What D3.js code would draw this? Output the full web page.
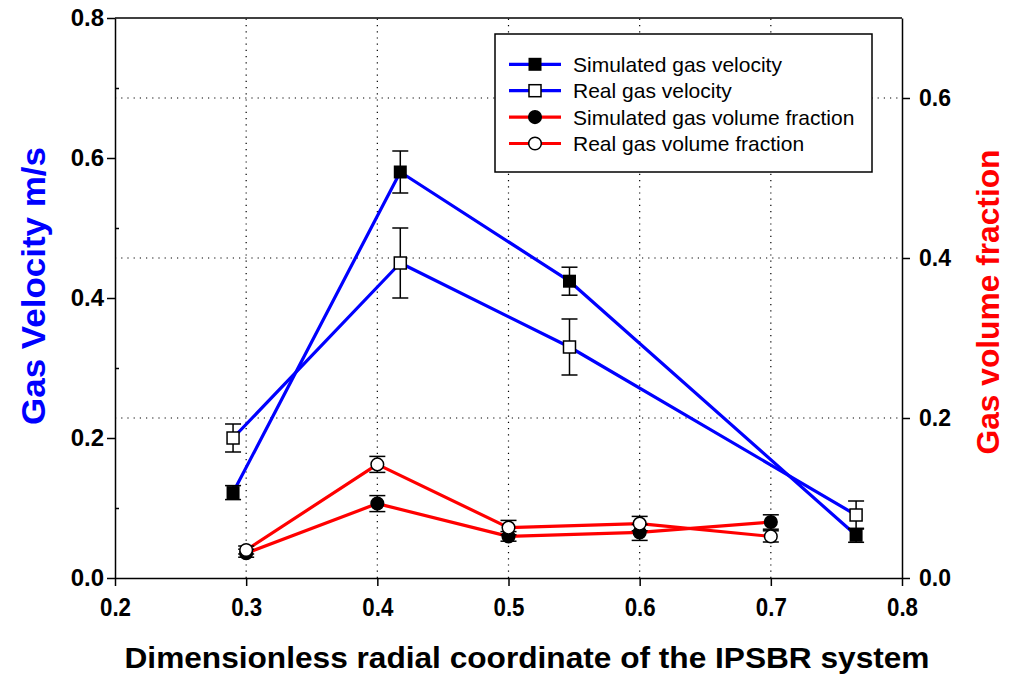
<!DOCTYPE html>
<html>
<head>
<meta charset="utf-8">
<script src="https://cdn.jsdelivr.net/npm/d3@7/dist/d3.min.js"></script>
<style>
  html, body { margin: 0; padding: 0; background: #fff; }
  svg { display: block; font-family: "Liberation Sans", Arial, sans-serif; }
</style>
</head>
<body>
<svg id="chart" width="1013" height="678"></svg>
<script>
// Radial positions of the velocity measurements and the volume-fraction measurements
const velocityX = [0.29, 0.4175, 0.5465, 0.765];
const simVelocity = [0.122, 0.58, 0.424, 0.061];
const simVelocityErr = [0.01, 0.03, 0.02, 0.01];
const realVelocity = [0.20, 0.45, 0.33, 0.09];
const realVelocityErr = [0.02, 0.05, 0.04, 0.02];

const fractionX = [0.3, 0.4, 0.5, 0.6, 0.7];
const simFraction = [0.031, 0.093, 0.052, 0.057, 0.070];
const simFractionErr = [0.005, 0.01, 0.006, 0.01, 0.009];
const realFraction = [0.035, 0.142, 0.063, 0.068, 0.052];
const realFractionErr = [0.005, 0.01, 0.009, 0.009, 0.007];

const xTicks = [0.2, 0.3, 0.4, 0.5, 0.6, 0.7, 0.8];
const leftTicks = [0.0, 0.2, 0.4, 0.6, 0.8];
const leftMinorTicks = [0.1, 0.3, 0.5, 0.7];
const rightTicks = [0.0, 0.2, 0.4, 0.6];
const xGrid = [0.3, 0.4, 0.5, 0.6, 0.7];
const rightGrid = [0.2, 0.4, 0.6];

const legendLabels = [
  "Simulated gas velocity",
  "Real gas velocity",
  "Simulated gas volume fraction",
  "Real gas volume fraction"
];

const BLUE = "#0000ff", RED = "#ff0000";
const plot = { left: 115, right: 902, top: 18, bottom: 578 };

const svg = d3.select("#chart");
const x = d3.scaleLinear().domain([0.2, 0.8]).range([plot.left, plot.right]);
const yL = d3.scaleLinear().domain([0, 0.8]).range([plot.bottom, plot.top]);
const yR = d3.scaleLinear().domain([0, 0.7]).range([plot.bottom, plot.top]);
const fmt = d3.format(".1f");

// dotted grid
const grid = svg.append("g").attr("stroke", "#000").attr("stroke-width", 1.2)
  .attr("stroke-dasharray", "1.2,5");
grid.selectAll(".vg").data(xGrid).join("line")
  .attr("x1", d => x(d)).attr("x2", d => x(d))
  .attr("y1", plot.bottom).attr("y2", plot.top);
grid.selectAll(".hg").data(rightGrid).join("line")
  .attr("x1", plot.left).attr("x2", plot.right)
  .attr("y1", d => yR(d)).attr("y2", d => yR(d));

// top frame line
svg.append("line").attr("x1", plot.left).attr("x2", plot.right)
  .attr("y1", plot.top).attr("y2", plot.top)
  .attr("stroke", "#000").attr("stroke-width", 1.5);

function styleAxis(g, size) {
  g.selectAll("path, line").attr("stroke", "#000").attr("stroke-width", 1.5);
  g.selectAll("text").attr("fill", "#000").attr("font-weight", "bold")
    .attr("font-size", size).attr("font-family", "Liberation Sans, Arial, sans-serif");
}

// bottom axis (narrow bold labels)
const gx = svg.append("g").attr("transform", `translate(0,${plot.bottom})`)
  .call(d3.axisBottom(x).tickValues(xTicks).tickFormat(fmt).tickSize(8).tickSizeOuter(0).tickPadding(12));
styleAxis(gx, 26);
gx.selectAll("text").attr("textLength", 31).attr("lengthAdjust", "spacingAndGlyphs");

// left axis with inward minor ticks
const gl = svg.append("g").attr("transform", `translate(${plot.left},0)`)
  .call(d3.axisLeft(yL).tickValues(leftTicks).tickFormat(fmt).tickSize(8).tickSizeOuter(0).tickPadding(3));
styleAxis(gl, 24);
const glm = svg.append("g").attr("transform", `translate(${plot.left},0)`)
  .call(d3.axisLeft(yL).tickValues(leftMinorTicks).tickFormat("").tickSize(-4).tickSizeOuter(0));
styleAxis(glm, 24);
glm.select(".domain").remove();

// right axis
const gr = svg.append("g").attr("transform", `translate(${plot.right},0)`)
  .call(d3.axisRight(yR).tickValues(rightTicks).tickFormat(fmt).tickSize(8).tickSizeOuter(0).tickPadding(9));
styleAxis(gr, 23);

// series lines
const velLine = d3.line().x(d => x(d[0])).y(d => yL(d[1]));
const fracLine = d3.line().x(d => x(d[0])).y(d => yR(d[1]));
const series = [
  { xs: velocityX, ys: simVelocity, err: simVelocityErr, y: yL, line: velLine, color: BLUE, shape: "square", filled: true },
  { xs: velocityX, ys: realVelocity, err: realVelocityErr, y: yL, line: velLine, color: BLUE, shape: "square", filled: false },
  { xs: fractionX, ys: simFraction, err: simFractionErr, y: yR, line: fracLine, color: RED, shape: "circle", filled: true },
  { xs: fractionX, ys: realFraction, err: realFractionErr, y: yR, line: fracLine, color: RED, shape: "circle", filled: false }
];

series.forEach(s => {
  svg.append("path").datum(s.xs.map((v, i) => [v, s.ys[i]]))
    .attr("d", s.line).attr("fill", "none")
    .attr("stroke", s.color).attr("stroke-width", 3.2).attr("stroke-linejoin", "round");
});

// error bars
series.forEach(s => {
  const g = svg.append("g").attr("stroke", "#000").attr("stroke-width", 1.5);
  s.xs.forEach((v, i) => {
    const cx = x(v), y1 = s.y(s.ys[i] - s.err[i]), y2 = s.y(s.ys[i] + s.err[i]);
    g.append("line").attr("x1", cx).attr("x2", cx).attr("y1", y1).attr("y2", y2);
    g.append("line").attr("x1", cx - 8).attr("x2", cx + 8).attr("y1", y1).attr("y2", y1);
    g.append("line").attr("x1", cx - 8).attr("x2", cx + 8).attr("y1", y2).attr("y2", y2);
  });
});

function marker(g, shape, filled, cx, cy) {
  if (shape === "square") {
    const sz = filled ? 13 : 12;
    g.append("rect").attr("x", cx - sz / 2).attr("y", cy - sz / 2)
      .attr("width", sz).attr("height", sz)
      .attr("fill", filled ? "#000" : "#fff").attr("stroke", "#000").attr("stroke-width", filled ? 0 : 1.5);
  } else {
    g.append("circle").attr("cx", cx).attr("cy", cy).attr("r", 6.3)
      .attr("fill", filled ? "#000" : "#fff").attr("stroke", "#000").attr("stroke-width", 1.5);
  }
}

series.forEach(s => {
  const g = svg.append("g");
  s.xs.forEach((v, i) => marker(g, s.shape, s.filled, x(v), s.y(s.ys[i])));
});

// legend
const lg = svg.append("g");
lg.append("rect").attr("x", 495).attr("y", 34).attr("width", 377).attr("height", 138)
  .attr("fill", "#fff").attr("stroke", "#000").attr("stroke-width", 1.5);
legendLabels.forEach((lab, i) => {
  const s = series[i];
  const ry = 64.3 + i * 26.4;
  lg.append("line").attr("x1", 509).attr("x2", 561).attr("y1", ry).attr("y2", ry)
    .attr("stroke", s.color).attr("stroke-width", 3.2);
  marker(lg, s.shape, s.filled, 535, ry);
  lg.append("text").attr("x", 573).attr("y", ry).attr("dy", "0.36em")
    .attr("font-size", 21).attr("fill", "#000").text(lab);
});

// axis titles
svg.append("text").attr("transform", "translate(45,286) rotate(-90)")
  .attr("text-anchor", "middle").attr("font-weight", "bold").attr("font-size", 33)
  .attr("textLength", 278).attr("lengthAdjust", "spacingAndGlyphs")
  .attr("fill", BLUE).text("Gas Velocity m/s");
svg.append("text").attr("transform", "translate(999,302) rotate(-90)")
  .attr("text-anchor", "middle").attr("font-weight", "bold").attr("font-size", 32)
  .attr("textLength", 305).attr("lengthAdjust", "spacingAndGlyphs")
  .attr("fill", RED).text("Gas volume fraction");
svg.append("text").attr("x", 527).attr("y", 668)
  .attr("text-anchor", "middle").attr("font-weight", "bold").attr("font-size", 30)
  .attr("textLength", 805).attr("lengthAdjust", "spacingAndGlyphs")
  .attr("fill", "#000").text("Dimensionless radial coordinate of the IPSBR system");
</script>
</body>
</html>
